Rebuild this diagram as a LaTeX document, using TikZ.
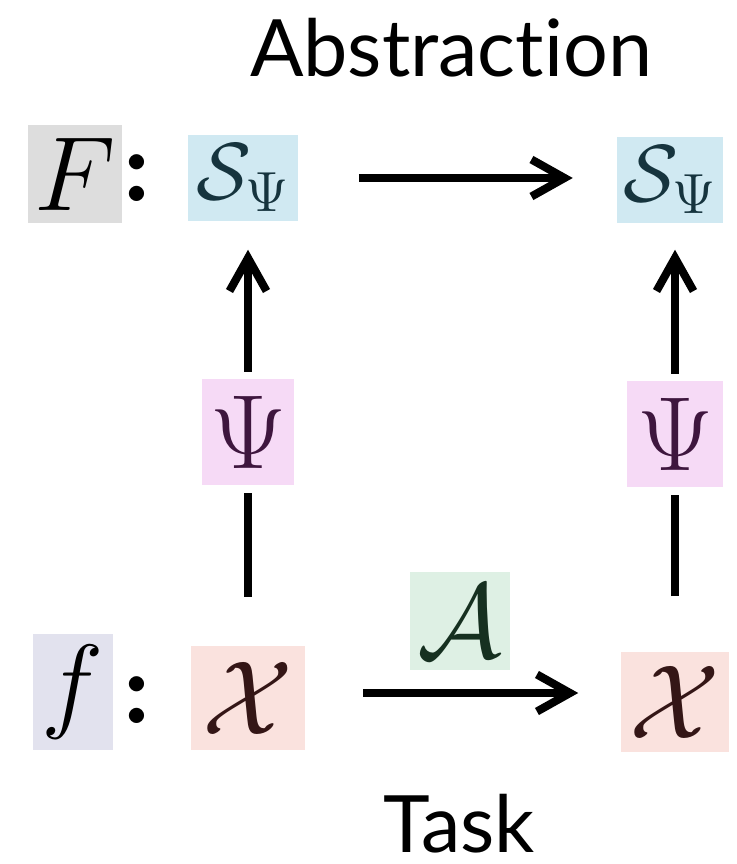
\documentclass[tikz,border=0pt]{standalone}
\usepackage{fix-cm}
\usepackage{amsmath}
\usepackage{fontspec}
\setsansfont{Lato}[Ligatures=NoCommon]
\usetikzlibrary{arrows.meta,positioning}

\definecolor{boxgray}{RGB}{221,221,221}
\definecolor{boxsky}{RGB}{208,233,242}
\definecolor{boxpink}{RGB}{246,218,246}
\definecolor{boxlav}{RGB}{226,226,238}
\definecolor{boxrose}{RGB}{250,226,222}
\definecolor{boxmint}{RGB}{222,240,228}
\definecolor{inkteal}{RGB}{22,52,62}
\definecolor{inkplum}{RGB}{62,22,62}
\definecolor{inkbrown}{RGB}{52,22,22}
\definecolor{inkgreen}{RGB}{22,48,32}

\begin{document}
\begin{tikzpicture}[
  x=0.01cm, y=-0.01cm,
  font=\fontsize{30}{36}\selectfont,
  tile/.style={fill=#1, inner sep=0pt},
  space/.style={tile=boxsky, text=inkteal, font=\fontsize{23}{28}\selectfont,
    minimum width=1.1cm, minimum height=0.86cm},
  caption/.style={font=\sffamily\fontsize{22.5}{27}\selectfont, anchor=base, inner sep=0pt},
  arr/.style={-{Straight Barb[length=3.3mm, width=3.7mm]}, line width=2.3pt},
  link/.style={line width=2.3pt}
]
  \useasboundingbox (0,0) rectangle (737,864);

  \node[caption] (abstr) at (451,77) {Abstraction};
  \node[caption] (task) at (459,852) {Task};

  % top row
  \node[tile=boxgray, minimum width=0.94cm, minimum height=0.97cm] (F) at (75,174) {$F$};
  \node (topcolon) at (137,178) {$\boldsymbol{:}$};
  \node[space] (Sl) at (243,178) {$\mathcal{S}_\Psi$};
  \node[space, minimum width=1.05cm] (Sr) at (670,180) {$\mathcal{S}_\Psi$};

  % maps
  \node[tile=boxpink, text=inkplum, minimum width=0.92cm, minimum height=1.05cm] (Pl) at (248,432) {$\Psi$};
  \node[tile=boxpink, text=inkplum, minimum width=0.95cm, minimum height=1.05cm] (Pr) at (675,434) {$\Psi$};

  % bottom row
  \node[tile=boxlav, minimum width=0.8cm, minimum height=1.15cm] (f) at (73,692) {$f$};
  \node (botcolon) at (137,700) {$\boldsymbol{:}$};
  \node[tile=boxrose, text=inkbrown, minimum width=1.13cm, minimum height=1.03cm] (Xl) at (248,698) {$\mathcal{X}$};
  \node[tile=boxrose, text=inkbrown, minimum width=1.08cm, minimum height=1.0cm] (Xr) at (675,702) {$\mathcal{X}$};
  \node[tile=boxmint, text=inkgreen, minimum width=1.0cm, minimum height=0.97cm] (A) at (460,621) {$\mathcal{A}$};

  \draw[arr, shorten <=0.6cm, shorten >=0.44cm] (Sl.east) -- (Sl.east -| Sr.west);
  \draw[arr, shorten <=0.58cm, shorten >=0.42cm] ([yshift=0.05cm]Xl.east) -- ([yshift=0.05cm]Xl.east -| Xr.west);
  \draw[arr, shorten <=0.07cm, shorten >=0.28cm] (Pl.north) -- (Pl.north |- Sl.south);
  \draw[arr, shorten <=0.07cm, shorten >=0.26cm] (Pr.north) -- (Pr.north |- Sr.south);
  \draw[link, shorten <=0.49cm, shorten >=0.08cm] (Xl.north) -- (Pl.south);
  \draw[link, shorten <=0.55cm, shorten >=0.08cm] (Xr.north) -- (Pr.south);
\end{tikzpicture}
\end{document}
